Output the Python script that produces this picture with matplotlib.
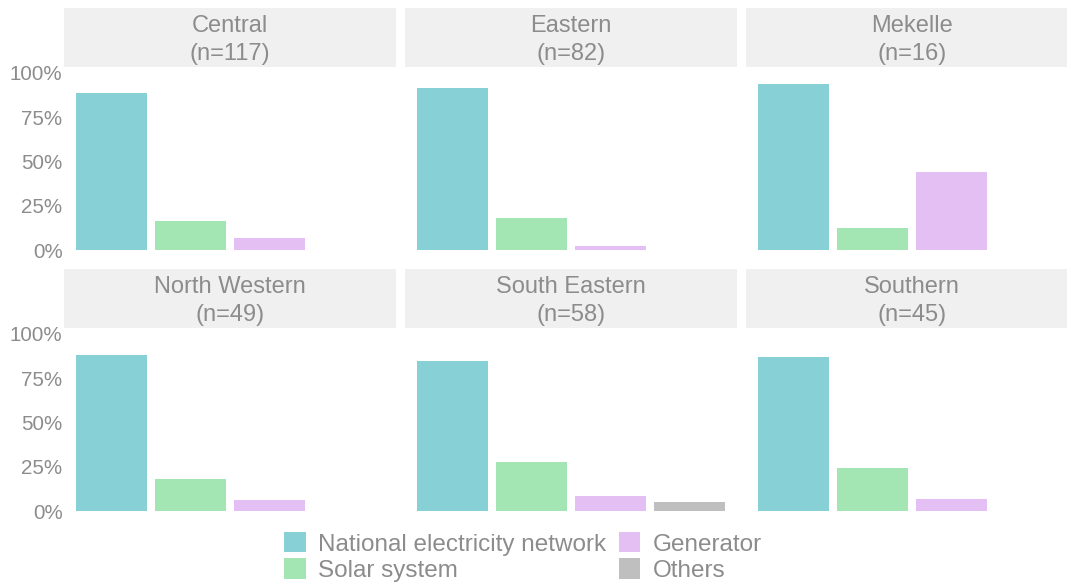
import matplotlib as mpl
import matplotlib.pyplot as plt
from matplotlib.patches import Patch
from matplotlib.ticker import PercentFormatter

mpl.use("Agg")
plt.rcParams["font.family"] = ["Liberation Sans", "DejaVu Sans"]

# Data (share of facilities using each power source, %)
regions = ["Central", "Eastern", "Mekelle", "North Western", "South Eastern", "Southern"]
n_sizes = [117, 82, 16, 49, 58, 45]
sources = ["National electricity network", "Solar system", "Generator", "Others"]
national = [88.9, 91.5, 93.8, 87.8, 84.5, 86.7]
solar = [16.2, 18.3, 12.5, 18.4, 27.6, 24.4]
generator = [6.8, 2.4, 43.8, 6.1, 8.6, 6.7]
others = [0.0, 0.0, 0.0, 0.0, 5.2, 0.0]

colors = ["#86D0D6", "#A3E6B4", "#E3BFF3", "#BFBFBF"]
text_color = "#8C8C8C"
strip_color = "#F0F0F0"

W, H = 1067, 588
fig = plt.figure(figsize=(W / 100, H / 100), dpi=100)


def px_rect(x0, y0, x1, y1):
    """Convert pixel box (top-left origin) to figure fraction rect."""
    return [x0 / W, 1 - y1 / H, (x1 - x0) / W, (y1 - y0) / H]


col_left = [64, 405, 746]
panel_w = 332
# strip top, strip bottom, panel top, panel bottom
rows = [(8, 67, 64, 259), (269, 328, 325, 520)]

for i, region in enumerate(regions):
    r, c = divmod(i, 3)
    x0 = col_left[c]
    s_top, s_bot, p_top, p_bot = rows[r]

    # panel
    ax = fig.add_axes(px_rect(x0, p_top, x0 + panel_w, p_bot))
    vals = [national[i], solar[i], generator[i], others[i]]
    ax.bar(range(4), vals, width=0.9, color=colors)
    ax.set_xlim(-0.6, 3.6)
    ax.set_ylim(-5, 105)
    ax.set_xticks([])
    ax.patch.set_alpha(0)
    for sp in ax.spines.values():
        sp.set_visible(False)
    if c == 0:
        ax.set_yticks([0, 25, 50, 75, 100])
        ax.yaxis.set_major_formatter(PercentFormatter(decimals=0))
        ax.tick_params(axis="y", length=0, pad=1, labelsize=14.8, labelcolor=text_color)
    else:
        ax.set_yticks([])

    # strip
    sax = fig.add_axes(px_rect(x0, s_top, x0 + panel_w, s_bot))
    sax.set_facecolor(strip_color)
    sax.set_xticks([])
    sax.set_yticks([])
    for sp in sax.spines.values():
        sp.set_visible(False)
    sax.text(0.5, 0.46, f"{region}\n(n={n_sizes[i]})", ha="center", va="center",
             color=text_color, fontsize=17, linespacing=1.38, transform=sax.transAxes)

handles = [Patch(facecolor=col, edgecolor="none") for col in colors]
fig.legend(handles, sources, loc="center", bbox_to_anchor=(523 / W, 1 - 557 / H),
           ncol=2, frameon=False, fontsize=17.5, labelcolor=text_color,
           handlelength=0.9, handleheight=0.9, handletextpad=0.5,
           columnspacing=0.5, labelspacing=0.12, borderpad=0)

fig.savefig("out.png", dpi=100)
plt.close(fig)
